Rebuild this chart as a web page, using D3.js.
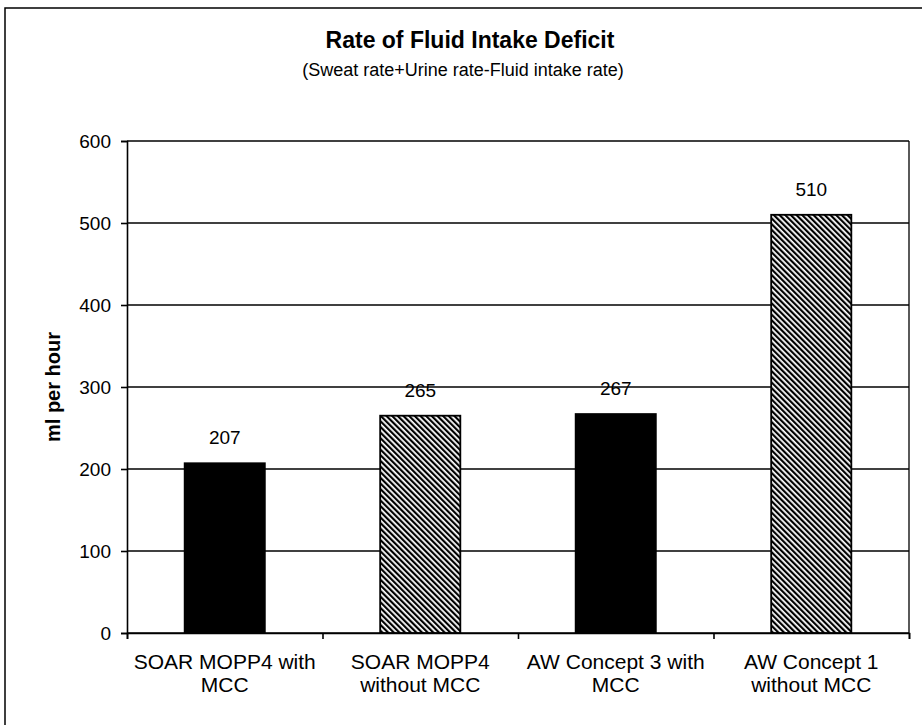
<!DOCTYPE html>
<html>
<head>
<meta charset="utf-8">
<script src="https://cdn.jsdelivr.net/npm/d3@7"></script>
<style>
  body { margin: 0; background: #fff; }
  text { font-family: "Liberation Sans", Arial, sans-serif; fill: #000; }
</style>
</head>
<body>
<div id="main"></div>
<script>
// data
var categories = ["SOAR MOPP4 with MCC", "SOAR MOPP4 without MCC", "AW Concept 3 with MCC", "AW Concept 1 without MCC"];
var labelLines = [["SOAR MOPP4 with", "MCC"], ["SOAR MOPP4", "without MCC"], ["AW Concept 3 with", "MCC"], ["AW Concept 1", "without MCC"]];
var values = [207, 265, 267, 510];
var yTicks = [0, 100, 200, 300, 400, 500, 600];

var title = "Rate of Fluid Intake Deficit",
    subtitle = "(Sweat rate+Urine rate-Fluid intake rate)",
    yTitle = "ml per hour";

// page and plot area
var W = 922, H = 725;
var margin = {top: 141, right: 13, bottom: 92, left: 127},
    width = W - margin.left - margin.right,
    height = H - margin.top - margin.bottom;

var svg = d3.select("#main").append("svg")
    .attr("width", W)
    .attr("height", H);

// hatch pattern for the "without MCC" bars
var pat = svg.append("defs").append("pattern")
    .attr("id", "hatch")
    .attr("patternUnits", "userSpaceOnUse")
    .attr("width", 4)
    .attr("height", 4)
    .attr("patternTransform", "rotate(-45)");
pat.append("rect").attr("width", 4).attr("height", 4).attr("fill", "#fff");
pat.append("rect")
    .attr("x", 0).attr("y", 0)
    .attr("width", 2.2).attr("height", 4)
    .attr("fill", "#000");

var fill = d3.scaleOrdinal()
    .domain(categories)
    .range(["#000", "url(#hatch)", "#000", "url(#hatch)"]);

// outer frame (only top and left edges show)
svg.append("path")
    .attr("d", "M5," + H + "V8H" + W)
    .attr("fill", "none")
    .attr("stroke", "#000")
    .attr("stroke-width", 1.5);

// titles
svg.append("text")
    .attr("x", 470).attr("y", 48)
    .attr("text-anchor", "middle")
    .style("font-size", "23px")
    .style("font-weight", "bold")
    .text(title);

svg.append("text")
    .attr("x", 463).attr("y", 76)
    .attr("text-anchor", "middle")
    .style("font-size", "18px")
    .text(subtitle);

var g = svg.append("g")
    .attr("transform", "translate(" + margin.left + "," + margin.top + ")");

// scales
var x = d3.scaleBand()
    .domain(categories)
    .range([0, width])
    .paddingInner(0.59)
    .paddingOuter(0.295);

var y = d3.scaleLinear()
    .domain([0, 600])
    .range([height, 0]);

var xEdge = d3.scaleLinear()
    .domain([0, categories.length])
    .range([0, width]);

// gridlines
g.append("g")
    .selectAll("line")
    .data(yTicks)
    .enter().append("line")
    .attr("x1", 0).attr("x2", width)
    .attr("y1", function(d) { return y(d); })
    .attr("y2", function(d) { return y(d); })
    .attr("stroke", "#000")
    .attr("stroke-width", 1.3);

// right border
g.append("line")
    .attr("x1", width).attr("x2", width)
    .attr("y1", 0).attr("y2", height)
    .attr("stroke", "#000")
    .attr("stroke-width", 1.3);

// bars
g.selectAll(".bar")
    .data(values)
    .enter().append("rect")
    .attr("class", "bar")
    .attr("x", function(d, i) { return x(categories[i]); })
    .attr("y", function(d) { return y(d); })
    .attr("width", x.bandwidth())
    .attr("height", function(d) { return height - y(d); })
    .attr("fill", function(d, i) { return fill(categories[i]); })
    .attr("stroke", "#000")
    .attr("stroke-width", 1.8);

// value labels
g.selectAll(".val")
    .data(values)
    .enter().append("text")
    .attr("class", "val")
    .attr("x", function(d, i) { return x(categories[i]) + x.bandwidth() / 2; })
    .attr("y", function(d) { return y(d) - 19; })
    .attr("text-anchor", "middle")
    .style("font-size", "19px")
    .text(function(d) { return d; });

// y axis
var yAxis = g.append("g")
    .call(d3.axisLeft(y).tickValues(yTicks).tickSize(6).tickPadding(10));
yAxis.selectAll("path, line").attr("stroke", "#000").attr("stroke-width", 1.6);
yAxis.selectAll("text")
    .style("font-size", "19px")
    .style("font-family", "'Liberation Sans', Arial, sans-serif");

// x axis ticks at category edges
var xAxis = g.append("g")
    .attr("transform", "translate(0," + height + ")")
    .call(d3.axisBottom(xEdge).tickValues(d3.range(categories.length + 1)).tickSize(6).tickFormat(""));
xAxis.selectAll("path, line").attr("stroke", "#000").attr("stroke-width", 1.6);

// category labels, two lines each
g.selectAll(".cat")
    .data(labelLines)
    .enter().append("text")
    .attr("class", "cat")
    .attr("text-anchor", "middle")
    .attr("transform", function(d, i) {
        return "translate(" + (x(categories[i]) + x.bandwidth() / 2) + "," + (height + 36) + ")";
    })
    .style("font-size", "21px")
    .selectAll("tspan")
    .data(function(d) { return d; })
    .enter().append("tspan")
    .attr("x", 0)
    .attr("dy", function(d, j) { return j === 0 ? 0 : 23; })
    .text(function(d) { return d; });

// y axis title
svg.append("text")
    .attr("transform", "translate(60," + (margin.top + height / 2) + ") rotate(-90)")
    .attr("text-anchor", "middle")
    .style("font-size", "20px")
    .style("font-weight", "bold")
    .text(yTitle);
</script>
</body>
</html>
